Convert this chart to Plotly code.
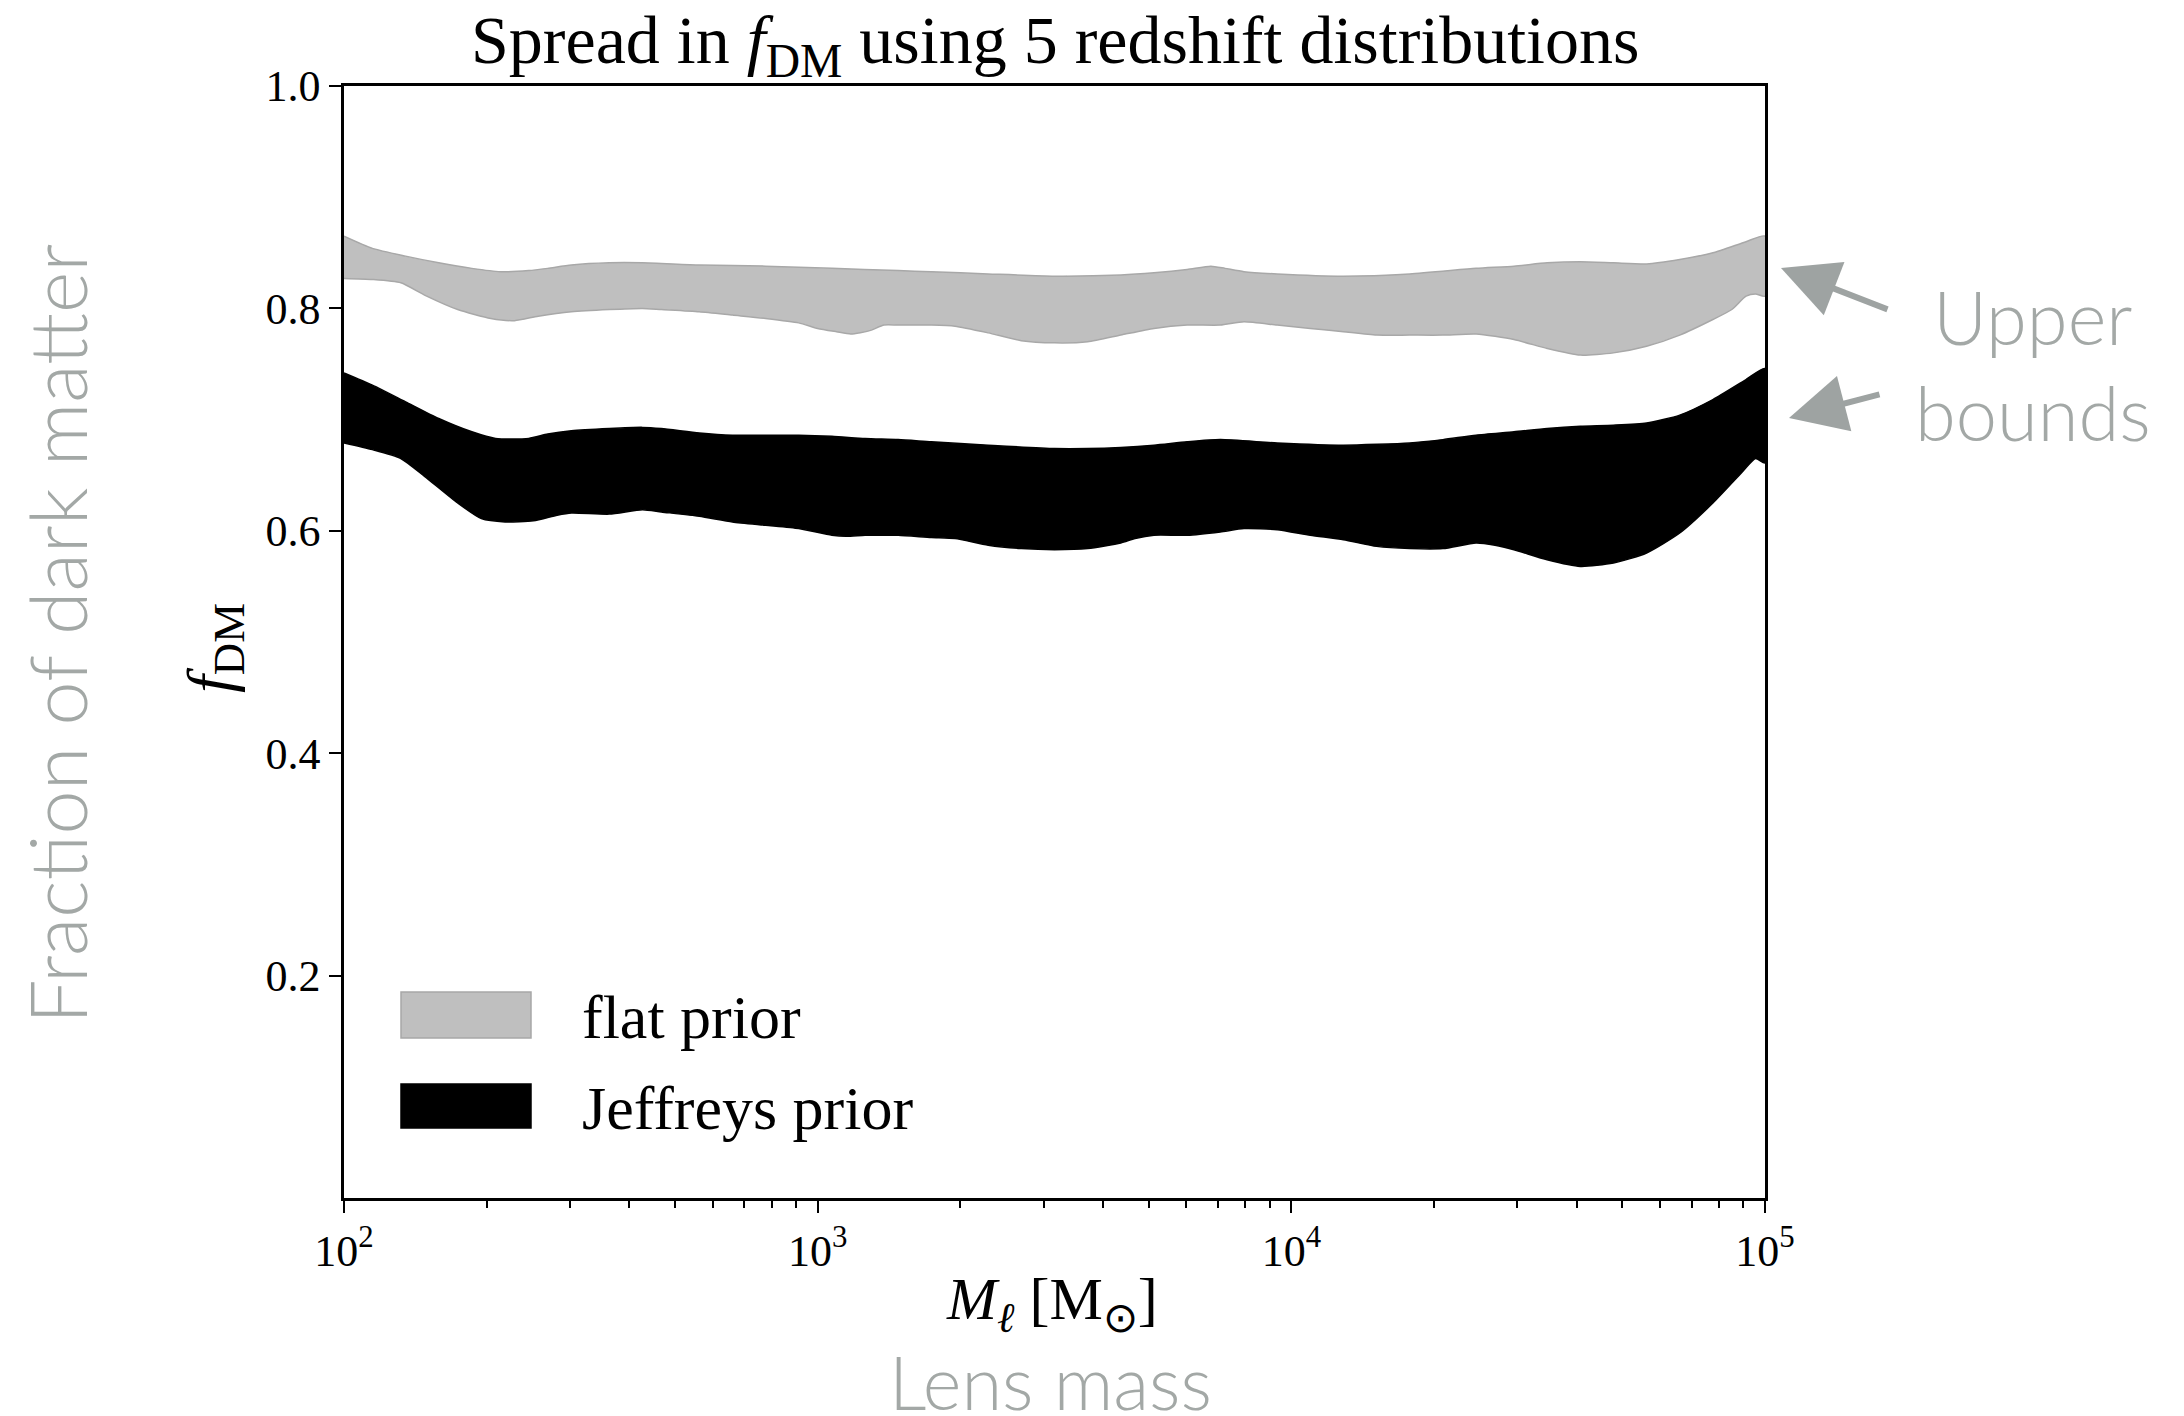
import plotly.graph_objects as go

# ---------------- data ----------------
# log10 of lens mass [M_sun] and f_DM for each band boundary
flat_upper_logm = [2.00, 2.06, 2.13, 2.20, 2.27, 2.33, 2.39, 2.43, 2.48, 2.56, 2.63,
                   2.75, 2.89, 3.03, 3.17, 3.24, 3.36, 3.50, 3.64, 3.71, 3.78, 3.83,
                   3.86, 3.90, 3.97, 4.11, 4.25, 4.39, 4.47, 4.54, 4.61, 4.68, 4.75,
                   4.82, 4.89, 4.96, 5.00]
flat_upper_f = [0.865, 0.854, 0.847, 0.841, 0.836, 0.833, 0.834, 0.836, 0.839, 0.841, 0.841,
                0.839, 0.838, 0.836, 0.834, 0.833, 0.831, 0.829, 0.830, 0.832, 0.835, 0.838,
                0.836, 0.833, 0.831, 0.829, 0.831, 0.836, 0.838, 0.841, 0.842, 0.841, 0.840,
                0.844, 0.850, 0.860, 0.865]

flat_lower_logm = [2.00, 2.06, 2.12, 2.17, 2.24, 2.31, 2.36, 2.41, 2.48, 2.56, 2.63,
                   2.67, 2.75, 2.82, 2.89, 2.96, 3.00, 3.04, 3.07, 3.11, 3.14, 3.17,
                   3.24, 3.29, 3.36, 3.43, 3.50, 3.57, 3.64, 3.71, 3.78, 3.85, 3.90,
                   3.97, 4.04, 4.11, 4.18, 4.25, 4.32, 4.39, 4.47, 4.54, 4.61, 4.68,
                   4.75, 4.82, 4.89, 4.93, 4.96, 4.98, 5.00]
flat_lower_f = [0.827, 0.826, 0.823, 0.812, 0.799, 0.791, 0.789, 0.793, 0.797, 0.799, 0.800,
                0.799, 0.797, 0.794, 0.791, 0.787, 0.782, 0.779, 0.777, 0.780, 0.785, 0.785,
                0.785, 0.784, 0.778, 0.771, 0.769, 0.770, 0.776, 0.782, 0.785, 0.785, 0.788,
                0.785, 0.782, 0.779, 0.776, 0.776, 0.776, 0.777, 0.772, 0.764, 0.758, 0.760,
                0.766, 0.776, 0.790, 0.799, 0.811, 0.813, 0.811]

jeff_upper_logm = [2.00, 2.06, 2.13, 2.20, 2.27, 2.32, 2.39, 2.43, 2.48, 2.56, 2.63,
                   2.67, 2.75, 2.82, 2.89, 2.96, 3.03, 3.10, 3.17, 3.24, 3.36, 3.50,
                   3.57, 3.64, 3.71, 3.78, 3.85, 3.97, 4.11, 4.25, 4.32, 4.39, 4.47,
                   4.54, 4.61, 4.68, 4.75, 4.82, 4.89, 4.96, 5.00]
jeff_upper_f = [0.742, 0.731, 0.716, 0.701, 0.689, 0.683, 0.683, 0.687, 0.690, 0.692, 0.693,
                0.692, 0.688, 0.686, 0.686, 0.686, 0.685, 0.683, 0.682, 0.680, 0.677, 0.674,
                0.674, 0.675, 0.677, 0.680, 0.682, 0.679, 0.677, 0.679, 0.682, 0.686, 0.689,
                0.692, 0.694, 0.695, 0.697, 0.704, 0.718, 0.736, 0.746]

jeff_lower_logm = [2.00, 2.06, 2.12, 2.17, 2.24, 2.29, 2.34, 2.40, 2.45, 2.48, 2.56, 2.63,
                   2.67, 2.75, 2.82, 2.89, 2.96, 3.03, 3.06, 3.10, 3.13, 3.17, 3.24,
                   3.29, 3.36, 3.43, 3.50, 3.57, 3.64, 3.67, 3.71, 3.78, 3.85, 3.90,
                   3.97, 4.04, 4.11, 4.18, 4.25, 4.32, 4.39, 4.43, 4.47, 4.54, 4.61,
                   4.68, 4.75, 4.82, 4.89, 4.95, 4.98, 5.00]
jeff_lower_f = [0.679, 0.673, 0.665, 0.649, 0.625, 0.611, 0.608, 0.609, 0.614, 0.616, 0.615, 0.619,
                0.617, 0.613, 0.608, 0.605, 0.602, 0.596, 0.595, 0.596, 0.596, 0.596, 0.594,
                0.593, 0.587, 0.584, 0.583, 0.584, 0.589, 0.593, 0.596, 0.596, 0.599, 0.602,
                0.601, 0.596, 0.592, 0.586, 0.584, 0.584, 0.589, 0.587, 0.583, 0.574, 0.568,
                0.571, 0.580, 0.598, 0.625, 0.652, 0.665, 0.661]

series_names = ["flat prior", "Jeffreys prior"]
x_tick_vals = [1e2, 1e3, 1e4, 1e5]
x_tick_text = ["10<sup>2</sup>", "10<sup>3</sup>", "10<sup>4</sup>", "10<sup>5</sup>"]
y_tick_vals = [0.2, 0.4, 0.6, 0.8, 1.0]
y_tick_text = ["0.2", "0.4", "0.6", "0.8", "1.0"]

# ---------------- figure ----------------
SERIF = "Liberation Serif, Times New Roman, serif"
SANS = "Lato, Open Sans, sans-serif"
GRAYTXT = "#a3a8a6"


def band(up_x, up_y, lo_x, lo_y, fill, line, name):
    xs = [10 ** v for v in up_x] + [10 ** v for v in reversed(lo_x)]
    ys = list(up_y) + list(reversed(lo_y))
    return go.Scatter(x=xs, y=ys, fill="toself", fillcolor=fill, mode="lines",
                      line=dict(color=line, width=1.5, shape="spline", smoothing=0.6),
                      name=name, showlegend=False, hoverinfo="skip")


fig = go.Figure()
fig.add_trace(band(flat_upper_logm, flat_upper_f, flat_lower_logm, flat_lower_f,
                   "#bfbfbf", "#a8a8a8", series_names[0]))
fig.add_trace(band(jeff_upper_logm, jeff_upper_f, jeff_lower_logm, jeff_lower_f,
                   "#000000", "#000000", series_names[1]))

W, H = 2184, 1416
L, R, T, B = 344, 2184 - 1765, 86, 1416 - 1198
PW, PH = W - L - R, H - T - B


def px(x):
    return (x - L) / PW


def py(y):
    return (H - B - y) / PH


fig.update_layout(
    width=W, height=H,
    margin=dict(l=L, r=R, t=T, b=B),
    paper_bgcolor="white", plot_bgcolor="white",
    showlegend=False,
    font=dict(family=SERIF, color="black"),
)

fig.update_xaxes(
    type="log", range=[2, 5],
    tickvals=x_tick_vals, ticktext=x_tick_text,
    ticks="outside", ticklen=12, tickwidth=2, tickcolor="black",
    tickfont=dict(family=SERIF, size=44, color="black"),
    minor=dict(ticks="outside", ticklen=7, tickwidth=1.5, tickcolor="black", dtick="D1",
               showgrid=False),
    showline=True, linecolor="black", linewidth=2.5, mirror=True,
    showgrid=False, zeroline=False,
)
fig.update_yaxes(
    range=[0, 1],
    tickvals=y_tick_vals, ticktext=y_tick_text,
    ticks="outside", ticklen=12, tickwidth=2, tickcolor="black",
    tickfont=dict(family=SERIF, size=44, color="black"),
    showline=True, linecolor="black", linewidth=2.5, mirror=True,
    showgrid=False, zeroline=False,
)

ann = []
# title
ann.append(dict(text="Spread in <i>f</i><sub>DM</sub> using 5 redshift distributions",
                x=0.5, y=py(44), xref="paper", yref="paper", showarrow=False,
                xanchor="center", yanchor="middle",
                font=dict(family=SERIF, size=68, color="black")))
# axis titles
ann.append(dict(text="<i>M</i><sub><i>ℓ</i></sub> [M<sub>⊙</sub>]",
                x=px(1052), y=py(1303), xref="paper", yref="paper", showarrow=False,
                xanchor="center", yanchor="middle",
                font=dict(family=SERIF, size=60, color="black")))
ann.append(dict(text="<i>f</i><sub>DM</sub>", textangle=-90,
                x=px(214), y=py(648), xref="paper", yref="paper", showarrow=False,
                xanchor="center", yanchor="middle",
                font=dict(family=SERIF, size=64, color="black")))
# gray overlay labels
ann.append(dict(text="Fraction of dark matter", textangle=-90,
                x=px(56), y=py(634), xref="paper", yref="paper", showarrow=False,
                xanchor="center", yanchor="middle",
                font=dict(family=SANS, size=79, color=GRAYTXT, weight=300)))
ann.append(dict(text="Lens mass",
                x=px(1050), y=py(1381), xref="paper", yref="paper", showarrow=False,
                xanchor="center", yanchor="middle",
                font=dict(family=SANS, size=74, color=GRAYTXT, weight=300)))
ann.append(dict(text="Upper<br>bounds",
                x=px(2033), y=py(364), xref="paper", yref="paper", showarrow=False,
                xanchor="center", yanchor="middle", align="center",
                font=dict(family=SANS, size=74, color=GRAYTXT, weight=300)))
# arrows
ann.append(dict(text="", x=px(1781), y=py(268), xref="paper", yref="paper",
                ax=108, ay=42, showarrow=True, arrowhead=2, arrowsize=1.9,
                arrowwidth=6, arrowcolor="#9ea3a2"))
ann.append(dict(text="", x=px(1789), y=py(418), xref="paper", yref="paper",
                ax=92, ay=-24, showarrow=True, arrowhead=2, arrowsize=1.9,
                arrowwidth=6, arrowcolor="#9ea3a2"))
# legend text
ann.append(dict(text=series_names[0], x=px(580), y=py(1017), xref="paper", yref="paper",
                showarrow=False, xanchor="left", yanchor="middle",
                font=dict(family=SERIF, size=62, color="black")))
ann.append(dict(text=series_names[1], x=px(580), y=py(1108), xref="paper", yref="paper",
                showarrow=False, xanchor="left", yanchor="middle",
                font=dict(family=SERIF, size=62, color="black")))
fig.update_layout(annotations=ann)

# legend patches
fig.add_shape(type="rect", xref="paper", yref="paper",
              x0=px(401), x1=px(531), y0=py(1038), y1=py(992),
              fillcolor="#bfbfbf", line=dict(color="#a8a8a8", width=1.5))
fig.add_shape(type="rect", xref="paper", yref="paper",
              x0=px(401), x1=px(531), y0=py(1128), y1=py(1084),
              fillcolor="#000000", line=dict(color="#000000", width=1.5))

fig.write_html("out.html")
